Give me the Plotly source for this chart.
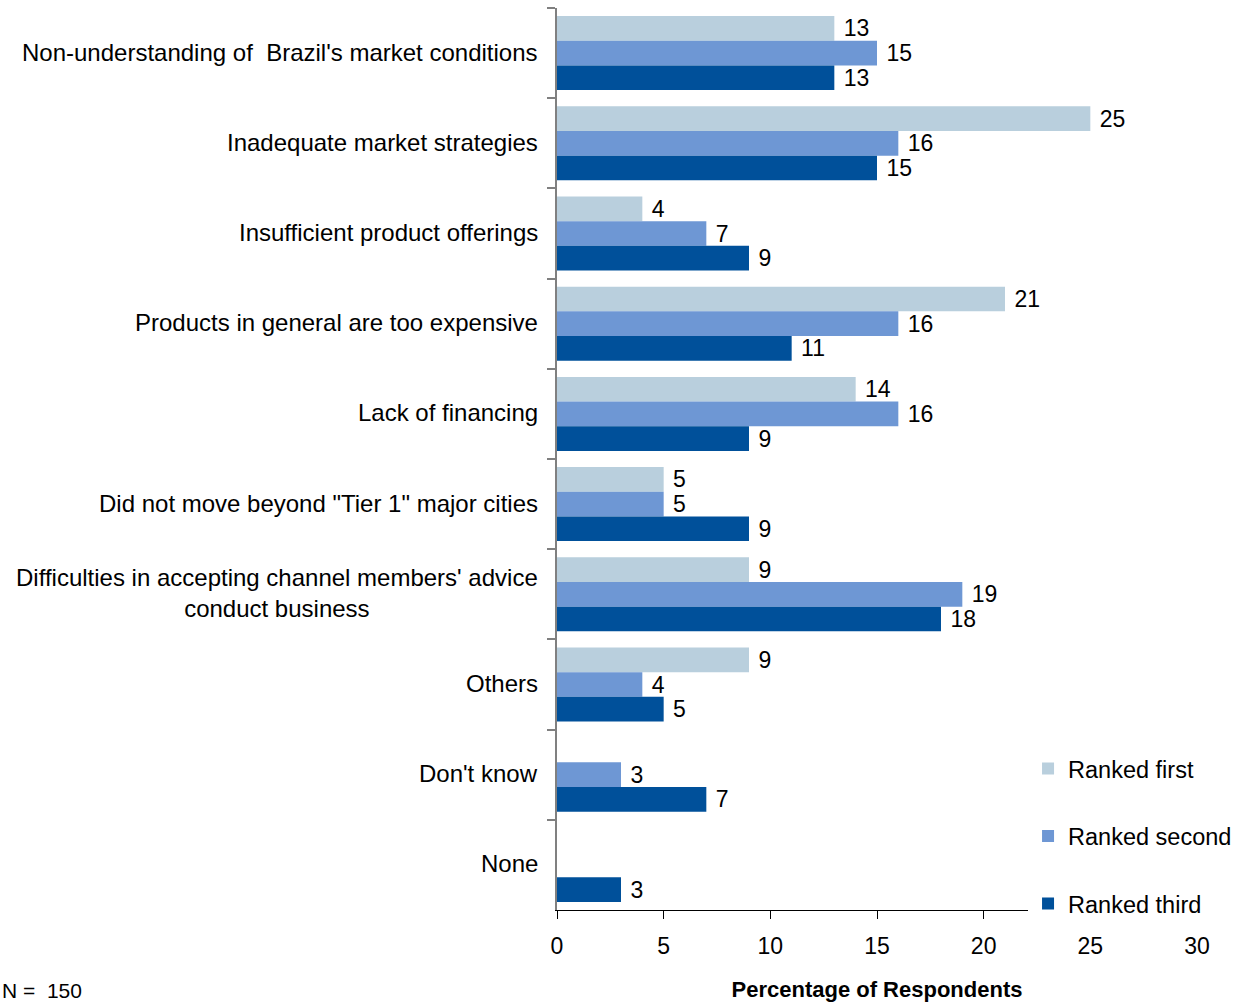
import plotly.graph_objects as go

# Survey categories, top to bottom
categories = [
    "Non-understanding of  Brazil's market conditions",
    "Inadequate market strategies",
    "Insufficient product offerings",
    "Products in general are too expensive",
    "Lack of financing",
    "Did not move beyond \"Tier 1\" major cities",
    "Difficulties in accepting channel members' advice<br>conduct business",
    "Others",
    "Don't know",
    "None",
]

# Percentage of respondents per ranking (None = no responses)
ranked_first = [13, 25, 4, 21, 14, 5, 9, 9, None, None]
ranked_second = [15, 16, 7, 16, 16, 5, 19, 4, 3, None]
ranked_third = [13, 15, 9, 11, 9, 9, 18, 5, 7, 3]

series_names = ["Ranked first", "Ranked second", "Ranked third"]
series_values = [ranked_first, ranked_second, ranked_third]
series_colors = ["#B9CFDD", "#6E97D4", "#00509A"]

x_ticks = [0, 5, 10, 15, 20, 25, 30]

FONT = "Liberation Sans, Arial, sans-serif"
FS_LABEL = 24
FS_NUM = 23

fig = go.Figure()
for i, (name, vals, col) in enumerate(zip(series_names, series_values, series_colors)):
    fig.add_trace(go.Bar(
        name=name,
        y=categories,
        x=vals,
        orientation="h",
        marker=dict(color=col, line=dict(width=0)),
        text=vals,
        texttemplate="\u00a0%{x}",
        textposition="outside",
        textfont=dict(family=FONT, size=FS_NUM, color="#000000"),
        constraintext="none",
        cliponaxis=False,
        legendgroup=str(i),
        hoverinfo="skip",
    ))

# Category labels, centred line by line and right-aligned to the axis
for cat in categories:
    fig.add_annotation(
        x=0, xref="x", y=cat, yref="y",
        text=cat, showarrow=False,
        xanchor="right", yanchor="middle", align="center",
        xshift=-17, yshift=1,
        font=dict(family=FONT, size=FS_LABEL, color="#000000"),
    )

fig.add_annotation(
    x=-0.8703, xref="paper", y=-0.0887, yref="paper",
    text="N =  150", showarrow=False,
    xanchor="left", yanchor="middle",
    font=dict(family=FONT, size=21, color="#000000"),
)

fig.update_layout(
    width=1237, height=1003,
    margin=dict(l=557, r=40, t=8, b=93, autoexpand=False),
    paper_bgcolor="white", plot_bgcolor="white",
    barmode="group", bargap=0.18, bargroupgap=0,
    font=dict(family=FONT, size=FS_NUM, color="#000000"),
    showlegend=True,
    legend=dict(
        x=0.736, xanchor="left",
        y=0.181, yanchor="top",
        bgcolor="white", borderwidth=0,
        traceorder="grouped", tracegroupgap=34,
        font=dict(family=FONT, size=23.5, color="#000000"),
    ),
    xaxis=dict(
        range=[0, 30], tickvals=x_ticks,
        showgrid=False, zeroline=False,
        showline=True, linecolor="#000000", linewidth=1,
        ticks="outside", ticklen=8, tickcolor="#000000", tickwidth=1,
        ticklabelstandoff=7,
        tickfont=dict(family=FONT, size=FS_NUM, color="#000000"),
        title=dict(text="<b>Percentage of Respondents</b>", standoff=24,
                   font=dict(family=FONT, size=22, color="#000000")),
    ),
    yaxis=dict(
        type="category", range=[9.5, -0.5],
        showticklabels=False, showgrid=False, zeroline=False,
        showline=True, linecolor="#808080", linewidth=1.5,
        ticks="outside", ticklen=8, tickcolor="#808080", tickwidth=1.5,
        tickson="boundaries",
    ),
)

fig.write_html("out.html")
